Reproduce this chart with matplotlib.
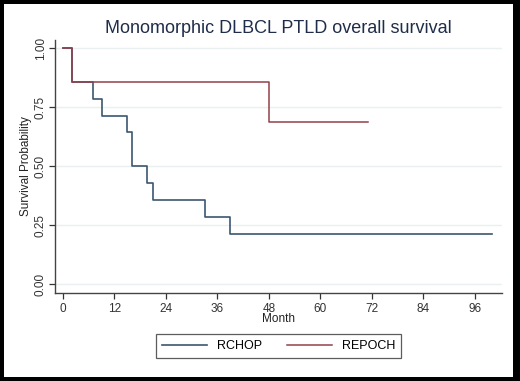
import matplotlib
matplotlib.use("Agg")
import matplotlib.pyplot as plt
from matplotlib.patches import Rectangle

plt.rcParams['font.family'] = ['Liberation Sans', 'DejaVu Sans']

# data (Kaplan-Meier steps)
rchop_month = [0, 2, 7, 9, 15, 16, 19.5, 21, 33, 39, 100]
rchop_surv = [1.0, 0.857, 0.786, 0.714, 0.643, 0.5, 0.429, 0.357, 0.286, 0.214, 0.214]
repoch_month = [0, 2, 48, 71]
repoch_surv = [1.0, 0.857, 0.686, 0.686]
x_ticks = [0, 12, 24, 36, 48, 60, 72, 84, 96]
y_ticks = [0.0, 0.25, 0.5, 0.75, 1.0]
y_labels = ['0.00', '0.25', '0.50', '0.75', '1.00']

W, H = 520, 381
fig = plt.figure(figsize=(W / 100, H / 100), dpi=100)
fig.patch.set_facecolor('black')
fig.patches.append(Rectangle((4 / W, 4 / H), 509 / W, 373 / H,
                             transform=fig.transFigure, facecolor='white',
                             edgecolor='none', zorder=-5))

ax = fig.add_axes([55 / W, 1 - 293 / H, (502 - 55) / W, (293 - 40) / H])
ax.set_facecolor('white')

navy = '#3b5670'
maroon = '#93404a'
ax.step(rchop_month, rchop_surv, where='post', color=navy, lw=1.2, label='RCHOP')
ax.step(repoch_month, repoch_surv, where='post', color=maroon, lw=1.1, label='REPOCH')

ax.set_xlim(-1.86, 102.3)
ax.set_ylim(-0.038, 1.034)
ax.set_xticks(x_ticks)
ax.set_yticks(y_ticks)
ax.set_yticklabels(y_labels, rotation=90, va='center')
ax.tick_params(axis='both', labelsize=8.5, colors='#333333', length=4, width=0.9,
               direction='out')
ax.tick_params(axis='y', pad=2)
ax.tick_params(axis='x', pad=3)
ax.grid(axis='y', color='#eaf0f2', lw=1)
ax.set_axisbelow(True)
for s in ['top', 'right']:
    ax.spines[s].set_visible(False)
for s in ['left', 'bottom']:
    ax.spines[s].set_color('#444444')
    ax.spines[s].set_linewidth(1)

ax.set_xlabel('Month', fontsize=8.5, color='#222222', labelpad=-1)
ax.set_ylabel('Survival Probability', fontsize=8.5, color='#222222', labelpad=2)
ax.set_title('Monomorphic DLBCL PTLD overall survival', fontsize=13,
             color='#1f2d4a', pad=5)

leg = fig.legend(loc='center', bbox_to_anchor=(278.5 / W, 1 - 346 / H), ncol=2,
                 fontsize=9, frameon=True, fancybox=False, handlelength=3.6,
                 columnspacing=2.0, handletextpad=0.8, borderpad=0.45)
leg.get_frame().set_edgecolor('#333333')
leg.get_frame().set_linewidth(0.9)

fig.savefig('out.png', dpi=100, facecolor=fig.get_facecolor())
